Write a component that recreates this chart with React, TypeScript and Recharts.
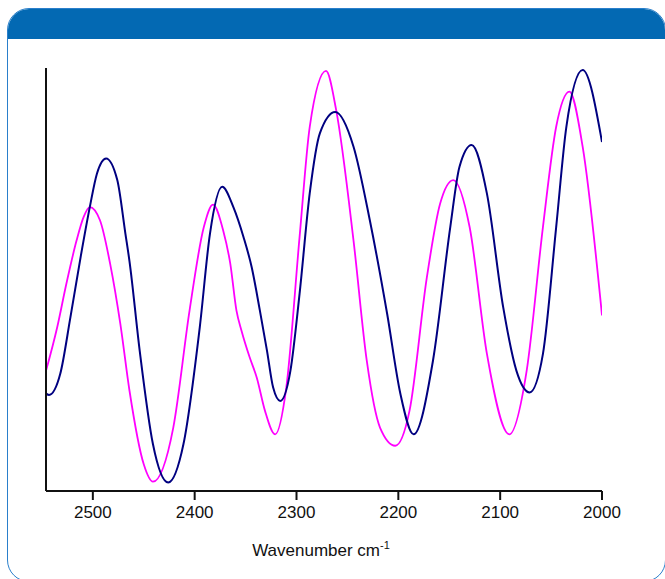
import { Line, LineChart, XAxis, YAxis } from "recharts";

// wavenumbers (cm-1) and absorbance-like values
const navyWn = [
  2546, 2543, 2532, 2522, 2512, 2503, 2496, 2487, 2476, 2468, 2464, 2454, 2441,
  2426, 2411, 2395, 2385, 2373, 2362, 2352, 2344, 2336, 2329, 2323, 2316, 2306,
  2297, 2287, 2277, 2262, 2244, 2228, 2211, 2198, 2185, 2166, 2149, 2140, 2128,
  2113, 2097, 2084, 2071, 2058, 2045, 2035, 2019, 2000,
];
const navyVal = [
  23.0, 22.7, 27.7, 41.1, 55.3, 67.1, 75.0, 78.6, 73.5, 60.8, 54.3, 33.2, 11.1,
  2.0, 11.1, 38.7, 60.8, 71.9, 67.1, 60.0, 52.9, 42.7, 33.2, 24.5, 21.3, 28.4,
  46.6, 70.4, 84.6, 89.6, 81.4, 64.0, 41.9, 23.0, 13.4, 30.8, 62.4, 76.6, 81.8,
  70.3, 43.4, 28.4, 23.3, 32.4, 62.4, 86.1, 99.5, 82.5,
];

const magentaWn = [
  2546, 2535, 2526, 2516, 2509, 2503, 2493, 2483, 2473, 2464, 2450, 2441, 2421,
  2405, 2391, 2382, 2372, 2365, 2359, 2354, 2346, 2339, 2331, 2321, 2310, 2297,
  2287, 2271, 2261, 2244, 2231, 2218, 2203, 2189, 2172, 2159, 2146, 2130, 2113,
  2091, 2074, 2058, 2045, 2032, 2019, 2000,
];
const magentaVal = [
  28.4, 38.7, 49.0, 59.2, 64.8, 67.1, 64.0, 53.7, 39.5, 23.7, 6.3, 2.2, 15.0,
  42.7, 62.4, 67.7, 61.6, 53.7, 42.7, 37.9, 31.6, 26.8, 19.0, 13.4, 24.5, 60.0,
  86.1, 99.3, 90.0, 59.2, 30.8, 15.0, 10.7, 19.0, 50.5, 67.9, 73.5, 62.4, 32.4,
  13.4, 28.4, 62.4, 86.1, 94.4, 81.4, 41.5,
];

const xTicks = [2500, 2400, 2300, 2200, 2100, 2000];

const navyData = navyWn.map((wn, i) => ({ wn, v: navyVal[i] }));
const magentaData = magentaWn.map((wn, i) => ({ wn, v: magentaVal[i] }));

const AxisTitle = (props: any) => {
  const vb = props.viewBox || { x: 0, y: 0, width: 0, height: 0 };
  const cx = vb.x + vb.width / 2 - 3;
  return (
    <text
      x={cx}
      y={556}
      textAnchor="middle"
      fill="#111"
      fontSize={17}
      fontFamily="'Liberation Sans', Arial, sans-serif"
    >
      Wavenumber cm
      <tspan fontSize={11} dy={-7}>
        -1
      </tspan>
    </text>
  );
};

const App = () => {
  return (
    <div
      style={{
        position: "fixed",
        left: 0,
        top: 0,
        width: 665,
        height: 579,
        overflow: "hidden",
        background: "#fff",
      }}
    >
      <div
        style={{
          position: "absolute",
          left: 7,
          top: 8,
          width: 659,
          height: 574,
          boxSizing: "border-box",
          border: "1.5px solid #2a7fcb",
          borderRadius: 22,
          overflow: "hidden",
          background: "#fff",
        }}
      >
        <div style={{ height: 30, background: "#0369b3" }} />
      </div>
      <div style={{ position: "absolute", left: 0, top: 0 }}>
        <LineChart
          width={665}
          height={579}
          margin={{ top: 68, right: 63, bottom: 18, left: 45 }}
        >
          <XAxis
            type="number"
            dataKey="wn"
            domain={[2000, 2546]}
            reversed
            ticks={xTicks}
            allowDataOverflow
            height={70}
            tickSize={9}
            tickMargin={6}
            axisLine={{ stroke: "#111", strokeWidth: 2 }}
            tickLine={{ stroke: "#111", strokeWidth: 2 }}
            tick={{
              fill: "#111",
              fontSize: 17,
              fontFamily: "'Liberation Sans', Arial, sans-serif",
            }}
            label={<AxisTitle />}
          />
          <YAxis
            type="number"
            domain={[0, 100]}
            width={1}
            tick={false}
            tickLine={false}
            axisLine={{ stroke: "#111", strokeWidth: 2 }}
          />
          <Line
            data={magentaData}
            dataKey="v"
            type="monotone"
            stroke="#ff00ff"
            strokeWidth={1.8}
            dot={false}
            isAnimationActive={false}
          />
          <Line
            data={navyData}
            dataKey="v"
            type="monotone"
            stroke="#000080"
            strokeWidth={2}
            dot={false}
            isAnimationActive={false}
          />
        </LineChart>
      </div>
    </div>
  );
};

export default App;
